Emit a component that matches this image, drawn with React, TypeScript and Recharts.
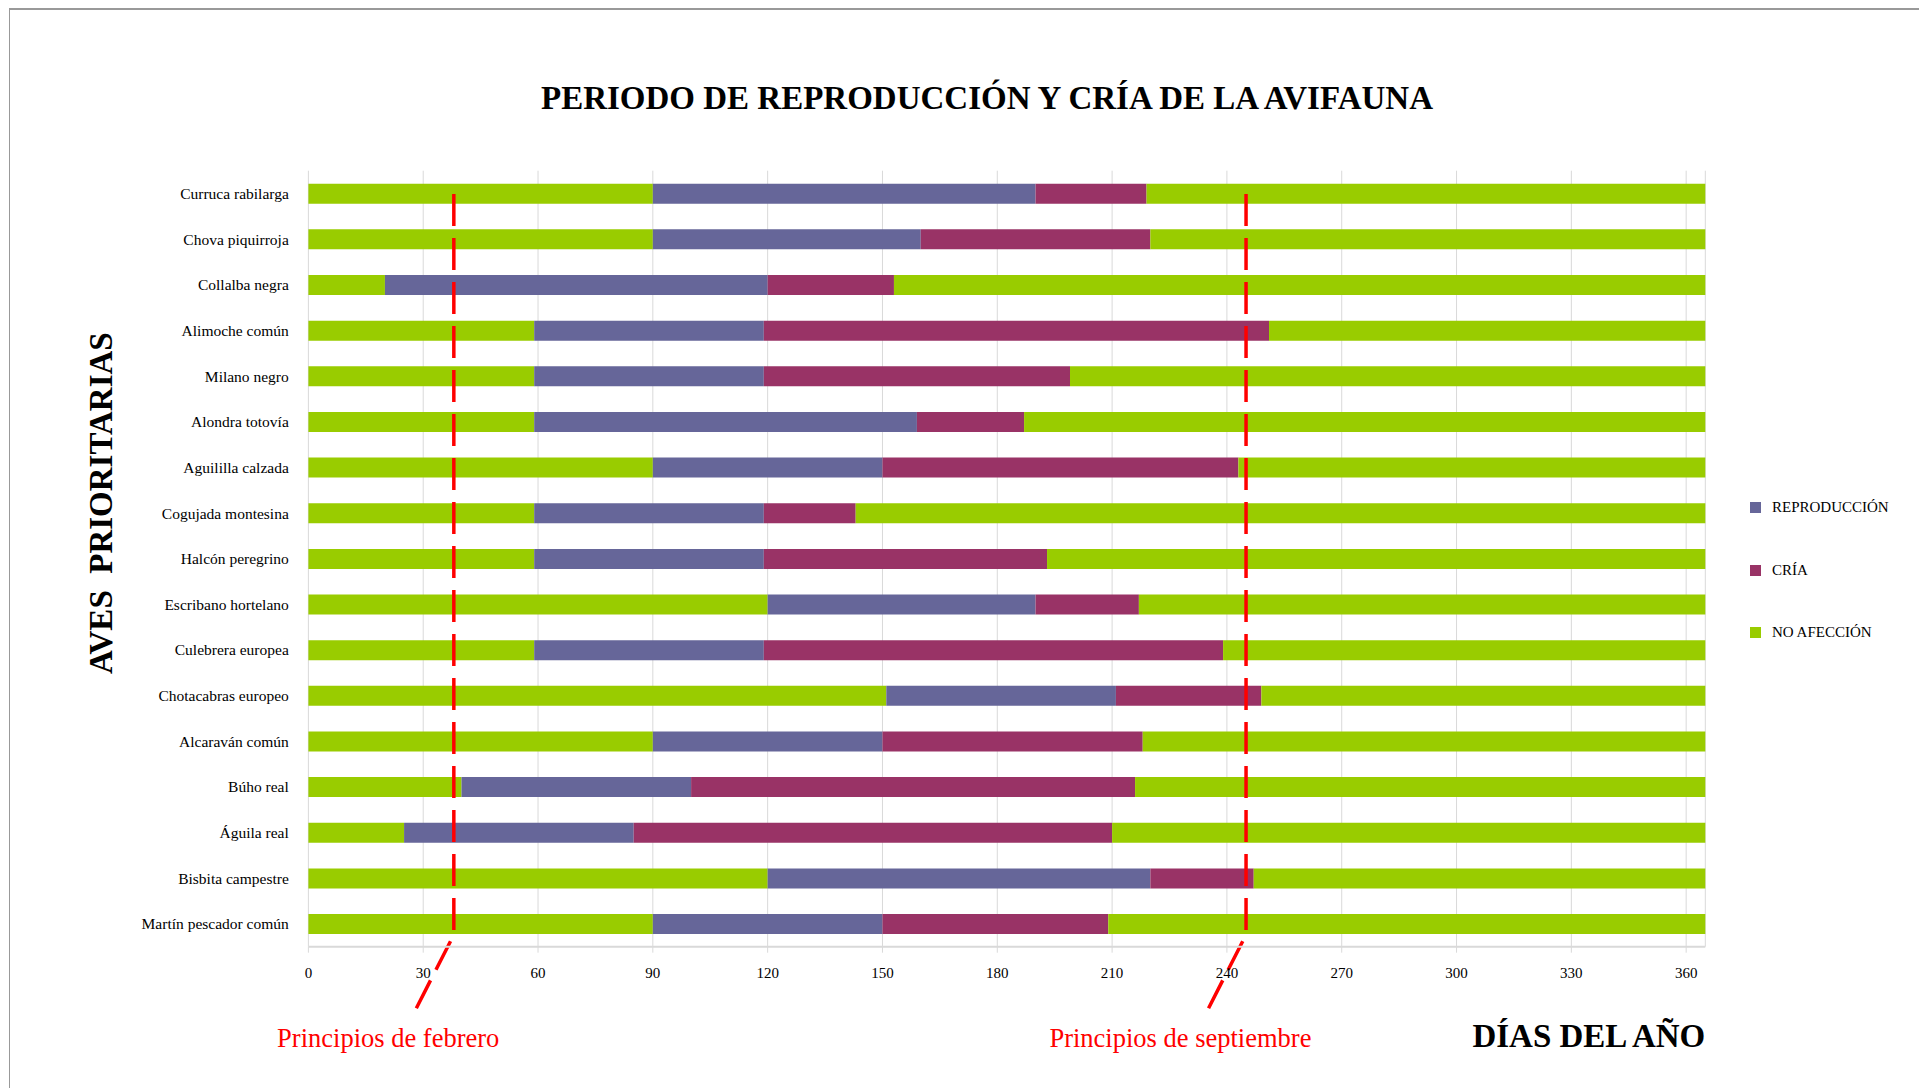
import { BarChart, Bar, XAxis, YAxis, CartesianGrid, ReferenceLine, Legend } from "recharts";

// Periodo de reproduccion y cria por especie (dias del año, tramos apilados)
const AVES = [
  "Curruca rabilarga",
  "Chova piquirroja",
  "Collalba negra",
  "Alimoche común",
  "Milano negro",
  "Alondra totovía",
  "Aguililla calzada",
  "Cogujada montesina",
  "Halcón peregrino",
  "Escribano hortelano",
  "Culebrera europea",
  "Chotacabras europeo",
  "Alcaraván común",
  "Búho real",
  "Águila real",
  "Bisbita campestre",
  "Martín pescador común",
];
// dias sin afeccion antes de la reproduccion
const INICIO = [90, 90, 20, 59, 59, 59, 90, 59, 59, 120, 59, 151, 90, 40, 25, 120, 90];
const REPRODUCCION = [100, 70, 100, 60, 60, 100, 60, 60, 60, 70, 60, 60, 60, 60, 60, 100, 60];
const CRIA = [29, 60, 33, 132, 80, 28, 93, 24, 74, 27, 120, 38, 68, 116, 125, 27, 59];
// dias sin afeccion despues de la cria
const RESTO = [146, 145, 212, 114, 166, 178, 122, 222, 172, 148, 126, 116, 147, 149, 155, 118, 156];

const DIAS_TICKS = [0, 30, 60, 90, 120, 150, 180, 210, 240, 270, 300, 330, 360];
const DIA_FEBRERO = 38;
const DIA_SEPTIEMBRE = 245;
const ORDEN_LEYENDA = ["REPRODUCCIÓN", "CRÍA", "NO AFECCIÓN"];

const datos = AVES.map((ave, i) => ({
  ave,
  inicio: INICIO[i],
  reproduccion: REPRODUCCION[i],
  cria: CRIA[i],
  resto: RESTO[i],
}));

const SERIF = '"Liberation Serif", "Times New Roman", serif';
const VERDE = "#99CC00";
const AZUL = "#666699";
const GRANATE = "#993366";
const ROJO = "#FF0000";

function marcaMes(texto: string) {
  return (props: any) => {
    const { x1, y1, y2 } = props;
    const arriba = Math.min(y1, y2);
    const abajo = Math.max(y1, y2);
    const d = `M${x1},${arriba + 23.3} L${x1},${abajo - 12} L${x1 - 37.5},${abajo + 61.5}`;
    return (
      <g>
        <path d={d} fill="none" stroke={ROJO} strokeWidth={3.5} strokeDasharray="32 12" />
        <text x={x1 - 65.6} y={abajo + 100} textAnchor="middle" fill={ROJO} fontFamily={SERIF} fontSize={26.5}>
          {texto}
        </text>
      </g>
    );
  };
}

function Leyenda({ payload }: any) {
  const items = (payload ?? [])
    .filter((p: any) => ORDEN_LEYENDA.includes(p.value))
    .sort((a: any, b: any) => ORDEN_LEYENDA.indexOf(a.value) - ORDEN_LEYENDA.indexOf(b.value));
  return (
    <div style={{ fontFamily: SERIF, fontSize: 15, color: "#000" }}>
      {items.map((p: any) => (
        <div key={p.value} style={{ display: "flex", alignItems: "center", height: 62.5 }}>
          <span style={{ width: 11, height: 11, background: p.color, marginRight: 11, display: "inline-block" }} />
          <span>{p.value}</span>
        </div>
      ))}
    </div>
  );
}

export default function App() {
  return (
    <div style={{ position: "absolute", left: 0, top: 0, width: 1919, height: 1088, overflow: "hidden", background: "#fff" }}>
      <div
        style={{
          position: "absolute",
          left: 9,
          top: 8,
          width: 2000,
          height: 2000,
          borderTop: "2px solid #999",
          borderLeft: "1px solid #999",
        }}
      />
      <div
        style={{
          position: "absolute",
          left: 987,
          top: 82,
          transform: "translateX(-50%)",
          whiteSpace: "nowrap",
          fontFamily: SERIF,
          fontWeight: "bold",
          fontSize: 33,
          lineHeight: "33px",
          color: "#000",
        }}
      >
        PERIODO DE REPRODUCCIÓN Y CRÍA DE LA AVIFAUNA
      </div>
      <div style={{ position: "absolute", left: 0, top: 0 }}>
        <BarChart
          width={1900}
          height={1080}
          data={datos}
          layout="vertical"
          barSize={20}
          margin={{ top: 170.7, right: 194.7, bottom: 103.3, left: 108.4 }}
        >
          <CartesianGrid horizontal={false} stroke="#d9d9d9" />
          <XAxis
            type="number"
            domain={[0, 365]}
            ticks={DIAS_TICKS}
            height={30}
            axisLine={{ stroke: "#d9d9d9", strokeWidth: 2 }}
            tickLine={{ stroke: "#d9d9d9" }}
            tickSize={6}
            tickMargin={15}
            tick={{ fontFamily: SERIF, fontSize: 15, fill: "#000" }}
            label={{
              content: (p: any) => {
                const vb = p.viewBox;
                return (
                  <text
                    x={vb.x + vb.width}
                    y={vb.y + 100}
                    textAnchor="end"
                    fontFamily={SERIF}
                    fontWeight="bold"
                    fontSize={33}
                    fill="#000"
                  >
                    DÍAS DEL AÑO
                  </text>
                );
              },
            }}
          />
          <YAxis
            type="category"
            dataKey="ave"
            width={200}
            axisLine={false}
            tickLine={false}
            tickSize={0}
            tickMargin={19.6}
            interval={0}
            tick={{ fontFamily: SERIF, fontSize: 15.5, fill: "#000" }}
            label={{
              content: (p: any) => {
                const vb = p.viewBox;
                const x = vb.x + 3.6;
                const y = vb.y + vb.height / 2 - 55.5;
                return (
                  <text
                    x={x}
                    y={y}
                    transform={`rotate(-90, ${x}, ${y})`}
                    textAnchor="middle"
                    fontFamily={SERIF}
                    fontWeight="bold"
                    fontSize={33}
                    fill="#000"
                  >
                    {"AVES\u00A0\u00A0PRIORITARIAS"}
                  </text>
                );
              },
            }}
          />
          <Legend
            layout="vertical"
            align="center"
            verticalAlign="middle"
            content={<Leyenda />}
            wrapperStyle={{ left: 1750, top: 476.5, width: 200 }}
          />
          <Bar dataKey="inicio" stackId="a" fill={VERDE} legendType="none" isAnimationActive={false} />
          <Bar dataKey="reproduccion" name="REPRODUCCIÓN" stackId="a" fill={AZUL} isAnimationActive={false} />
          <Bar dataKey="cria" name="CRÍA" stackId="a" fill={GRANATE} isAnimationActive={false} />
          <Bar dataKey="resto" name="NO AFECCIÓN" stackId="a" fill={VERDE} isAnimationActive={false} />
          <ReferenceLine x={DIA_FEBRERO} shape={marcaMes("Principios de febrero")} />
          <ReferenceLine x={DIA_SEPTIEMBRE} shape={marcaMes("Principios de septiembre")} />
        </BarChart>
      </div>
    </div>
  );
}
